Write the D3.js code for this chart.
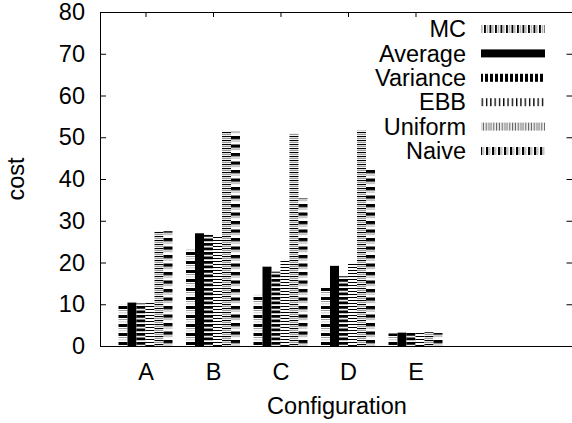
<!DOCTYPE html>
<html>
<head>
<meta charset="utf-8">
<script src="https://cdn.jsdelivr.net/npm/d3@7"></script>
<style>
    body { margin: 0; background: #fff; }
    svg { display: block; }
    text { font-family: "Liberation Sans", Arial, sans-serif; font-size: 23.5px; fill: #000; }
</style>
</head>
<body>
<svg id="chart" width="572" height="423"></svg>
<script>
const categories = ["A", "B", "C", "D", "E"];
const seriesNames = ["MC", "Average", "Variance", "EBB", "Uniform", "Naive"];
const mcCost = [10.0, 23.3, 12.3, 14.2, 3.0];
const averageCost = [10.4, 27.0, 19.0, 19.2, 3.2];
const varianceCost = [10.2, 26.6, 17.8, 16.7, 3.3];
const ebbCost = [10.6, 26.3, 20.8, 20.1, 3.4];
const uniformCost = [27.5, 51.5, 50.9, 51.6, 3.3];
const naiveCost = [27.5, 51.5, 35.4, 42.3, 3.1];
const yTicks = [0, 10, 20, 30, 40, 50, 60, 70, 80];

const seriesValues = [mcCost, averageCost, varianceCost, ebbCost, uniformCost, naiveCost];

// stripe recipes: [size, colour] repeated. bars get horizontal stripes, key samples vertical ones
const barStripes = {
    MC: [[3, "#000"], [1, "#fff"], [1, "#999"], [1.5, "#fff"], [1, "#bbb"], [1.5, "#fff"]],
    Average: [[4, "#000"]],
    Variance: [[3, "#000"], [1.5, "#fff"]],
    EBB: [[1, "#000"], [2, "#fff"]],
    Uniform: [[1, "#000"], [0.7, "#fff"], [1.6, "#999"], [0.7, "#fff"]],
    Naive: [[3.5, "#000"], [1, "#fff"], [1, "#999"], [3, "#fff"]]
};
const keyStripes = {
    MC: [[2, "#000"], [1, "#fff"], [1.2, "#888"], [1.3, "#fff"]],
    Average: [[4, "#000"]],
    Variance: [[3, "#000"], [2, "#fff"]],
    EBB: [[1.5, "#000"], [2.8, "#fff"]],
    Uniform: [[1, "#555"], [0.6, "#fff"], [1, "#aaa"], [0.6, "#fff"]],
    Naive: [[2.5, "#000"], [1, "#fff"], [1, "#888"], [1.5, "#fff"]]
};

const svg = d3.select("#chart");
const margins = {left: 100, top: 12, right: 572.5, bottom: 346};

const scaleX = d3.scaleLinear()
    .domain([-0.674, 6.326])
    .range([margins.left, margins.right]);

const scaleY = d3.scaleLinear()
    .domain([0, 80])
    .range([margins.bottom, margins.top]);

const scaleSub = d3.scaleBand()
    .domain(seriesNames)
    .range([-0.4, 0.4]);

function addPattern(defs, id, stripes, vertical) {
    const period = d3.sum(stripes, (s) => s[0]);
    const pattern = defs.append("pattern")
        .attr("id", id)
        .attr("patternUnits", "userSpaceOnUse")
        .attr("width", vertical ? period : 10)
        .attr("height", vertical ? 10 : period);
    let offset = 0;
    stripes.forEach(([size, colour]) => {
        pattern.append("rect")
            .attr("x", vertical ? offset : 0)
            .attr("y", vertical ? 0 : offset)
            .attr("width", vertical ? size : 10)
            .attr("height", vertical ? 10 : size)
            .attr("fill", colour);
        offset += size;
    });
}

const defs = svg.append("defs");
seriesNames.forEach((name) => {
    addPattern(defs, `bar-${name}`, barStripes[name], false);
    addPattern(defs, `key-${name}`, keyStripes[name], true);
});

// axes ticks
const yAxisLeft = d3.axisLeft(scaleY).tickValues(yTicks).tickSize(-6).tickPadding(15);
const yAxisRight = d3.axisRight(scaleY).tickValues(yTicks).tickSize(-6).tickFormat("");
const xAxisTop = d3.axisTop(scaleX).tickValues(d3.range(categories.length)).tickSize(-5).tickFormat("");
const xAxisBottom = d3.axisBottom(scaleX).tickValues(d3.range(categories.length))
    .tickSize(-5).tickPadding(17).tickFormat((d) => categories[d]);

function styleAxis(g) {
    g.select(".domain").remove();
    g.selectAll("line").attr("stroke", "#000");
    g.selectAll("text").attr("font-size", null).attr("font-family", null);
}

svg.append("g").attr("transform", `translate(0, ${margins.bottom})`).call(xAxisBottom).call(styleAxis);
svg.append("g").attr("transform", `translate(0, ${margins.top})`).call(xAxisTop).call(styleAxis);
svg.append("g").attr("transform", `translate(${margins.left}, 0)`).call(yAxisLeft).call(styleAxis);
svg.append("g").attr("transform", `translate(${margins.right}, 0)`).call(yAxisRight).call(styleAxis);

// bars
const barWidth = scaleX(scaleSub.bandwidth()) - scaleX(0);
seriesNames.forEach((name, s) => {
    svg.append("g")
        .selectAll("rect")
        .data(seriesValues[s])
        .join("rect")
        .attr("x", (d, i) => scaleX(i + scaleSub(name)))
        .attr("y", (d) => scaleY(d))
        .attr("width", barWidth)
        .attr("height", (d) => scaleY(0) - scaleY(d))
        .attr("fill", `url(#bar-${name})`);
});

// border
svg.append("path")
    .attr("d", `M${margins.right},${margins.top + 0.5}H${margins.left + 0.5}V${margins.bottom + 0.5}H${margins.right}`)
    .attr("fill", "none")
    .attr("stroke", "#000")
    .attr("stroke-width", 1);

// labels
svg.append("text")
    .attr("transform", `translate(24, ${(margins.top + margins.bottom) / 2}) rotate(-90)`)
    .attr("text-anchor", "middle")
    .text("cost");

svg.append("text")
    .attr("x", 337)
    .attr("y", 414)
    .attr("text-anchor", "middle")
    .text("Configuration");

// key
const keyRow = d3.scaleLinear().domain([0, 5]).range([29, 151]);
const key = svg.append("g")
    .selectAll("g")
    .data(seriesNames)
    .join("g")
    .attr("transform", (d, i) => `translate(0, ${keyRow(i)})`);

key.append("text")
    .attr("x", 466)
    .attr("dy", "0.35em")
    .attr("text-anchor", "end")
    .text((d) => d);

key.append("rect")
    .attr("x", 481)
    .attr("y", -4)
    .attr("width", 64)
    .attr("height", 8)
    .attr("fill", (d) => `url(#key-${d})`);
</script>
</body>
</html>
